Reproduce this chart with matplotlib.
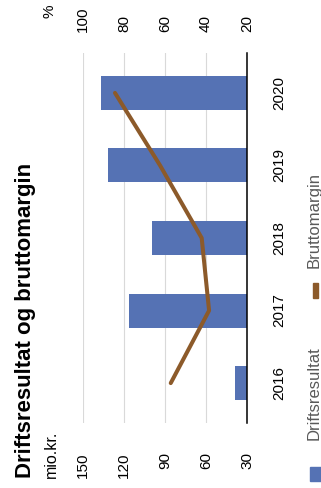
import matplotlib
matplotlib.use('Agg')
import matplotlib.pyplot as plt
from matplotlib.patches import Rectangle

plt.rcParams['font.family'] = ['Liberation Sans', 'DejaVu Sans']

years = ['2016', '2017', '2018', '2019', '2020']
driftsresultat = [38.8, 116.3, 99.5, 131.5, 136.8]   # mio.kr.
bruttomargin = [57.2, 38.5, 42.1, 62.4, 84.4]        # %
val_ticks = [30, 60, 90, 120, 150]
pct_ticks = [20, 40, 60, 80, 100]

bar_color = '#5572b4'
line_color = '#8c5a2a'
text_gray = '#595959'

W, H = 321, 488
fig = plt.figure(figsize=(W / 100, H / 100), dpi=100)

# chart is drawn rotated: values run right-to-left, years bottom-to-top
ax = fig.add_axes([83 / W, 65 / H, 164 / W, 370 / H])
pos = list(range(len(years)))
ax.barh(pos, driftsresultat, height=0.47, color=bar_color, zorder=2)
ax.set_xlim(150, 30)
ax.set_ylim(-0.55, len(years) - 0.45)
ax.set_xticks(val_ticks)
ax.set_xticklabels([str(v) for v in val_ticks], rotation=90, fontsize=11)
ax.tick_params(axis='x', length=0, pad=21)
ax.yaxis.tick_right()
ax.set_yticks(pos)
ax.set_yticklabels(years, rotation=90, fontsize=11, va='center')
ax.tick_params(axis='y', length=0, pad=18)
ax.grid(axis='x', color='#d9d9d9', linewidth=0.8, zorder=0)
for s in ['top', 'left', 'bottom']:
    ax.spines[s].set_visible(False)
ax.spines['right'].set_color('black')
ax.spines['right'].set_linewidth(1.1)
ax.spines['right'].set_zorder(4)

ax2 = ax.twiny()
ax2.plot(bruttomargin, pos, color=line_color, linewidth=2.9, solid_capstyle='round', zorder=3)
ax2.set_xlim(100, 20)
ax2.set_xticks(pct_ticks)
ax2.set_xticklabels([str(v) for v in pct_ticks], rotation=90, fontsize=11)
ax2.tick_params(axis='x', length=0, pad=15)
for s in ax2.spines.values():
    s.set_visible(False)

fig.text(26 / W, 1 - 478 / H, 'Driftsresultat og bruttomargin', rotation=90,
         ha='center', va='bottom', fontsize=16, fontweight='bold')
fig.text(51 / W, 1 - 478 / H, 'mio.kr.', rotation=90, ha='center', va='bottom', fontsize=11.5)
fig.text(50 / W, 1 - 4 / H, '%', rotation=90, ha='center', va='top', fontsize=11)

# legend, rotated like the rest
fig.add_artist(Rectangle((310 / W, 1 - 481 / H), 13 / W, 14 / H,
                         transform=fig.transFigure, color=bar_color))
fig.text(307 / W, 1 - 440 / H, 'Driftsresultat', rotation=90, ha='left', va='bottom',
         fontsize=12, color=text_gray)
fig.add_artist(Rectangle((313 / W, 1 - 298 / H), 5 / W, 15 / H,
                         transform=fig.transFigure, color=line_color))
fig.text(307 / W, 1 - 268 / H, 'Bruttomargin', rotation=90, ha='left', va='bottom',
         fontsize=12, color=text_gray)

fig.savefig('out.png', dpi=100)
